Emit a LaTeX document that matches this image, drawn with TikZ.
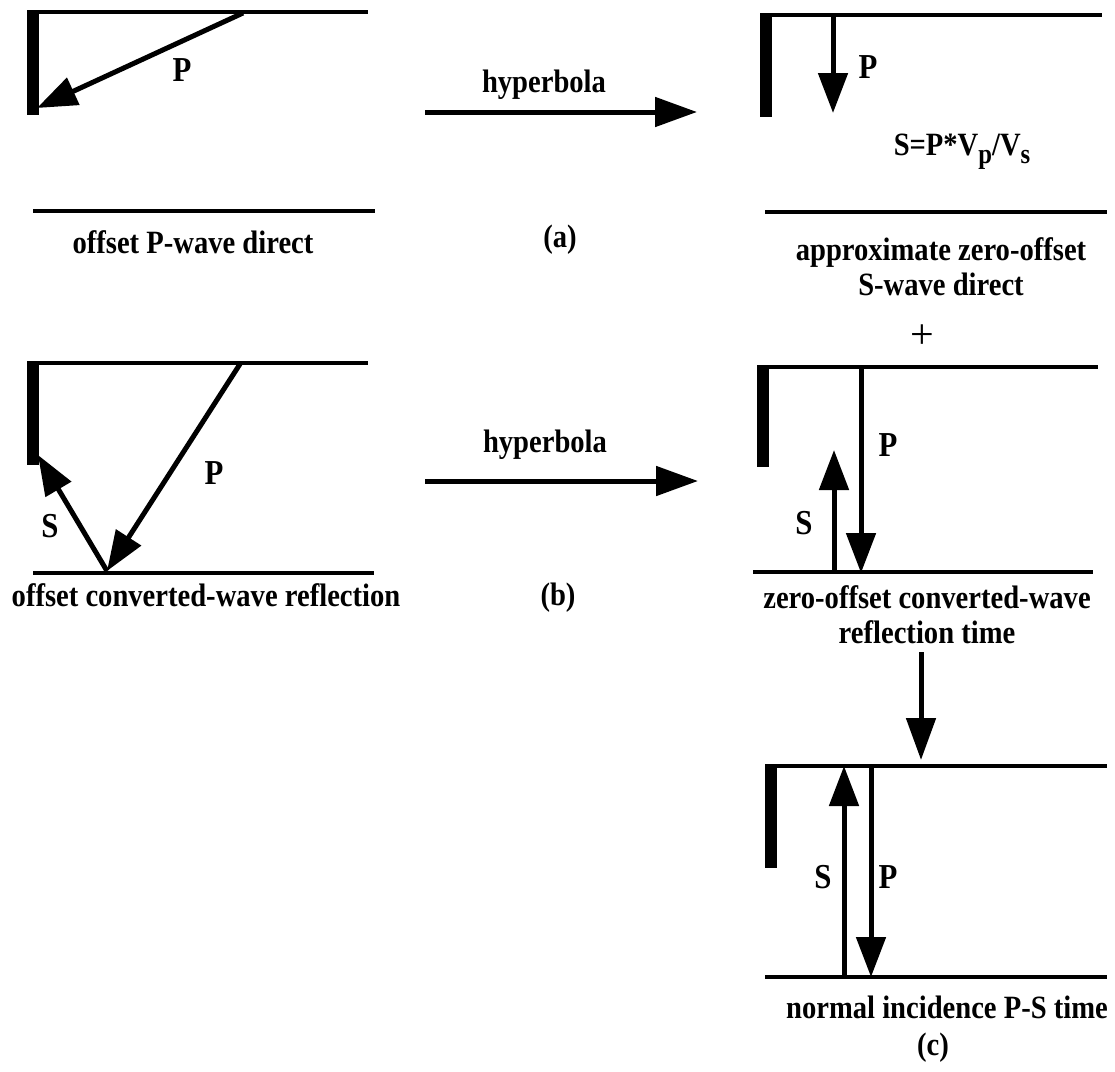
\documentclass[tikz,border=0pt]{standalone}
\usepackage{fontspec}
\setmainfont{Liberation Serif}
\newfontfamily\lblfont[FakeStretch=0.88]{Liberation Serif}
\usetikzlibrary{arrows.meta}
\newcommand{\lowsub}[1]{\raisebox{-8pt}{\fontsize{28}{28}\selectfont #1}}
\begin{document}
\begin{tikzpicture}[x=1pt,y=-1pt,
  layer/.style={line width=4.5pt},
  bar/.style={line width=12pt},
  ray/.style={line width=5pt,-{Triangle[length=40pt,width=29pt]}},
  flow/.style={line width=5pt,-{Triangle[length=42pt,width=29pt]}},
  lbl/.style={font=\lblfont\fontsize{32.5}{35}\selectfont\bfseries,inner sep=0pt,align=center},
  wlbl/.style={font=\lblfont\fontsize{35}{36}\selectfont\bfseries,inner sep=0pt},
  plus/.style={font=\fontsize{42}{42}\selectfont,inner sep=0pt}]
\useasboundingbox (0,0) rectangle (1115,1071);

% ---------- (a) left ----------
\coordinate (aLt1) at (27,12); \coordinate (aLt2) at (368,12);
\coordinate (aLb1) at (33,211); \coordinate (aLb2) at (375,211);
\coordinate (aLv1) at (33,10); \coordinate (aLv2) at (33,115);
\coordinate (aLs) at (243,13); \coordinate (aLr) at (37,108);
\draw[layer] (aLt1) -- (aLt2);
\draw[layer] (aLb1) -- (aLb2);
\draw[bar] (aLv1) -- (aLv2);
\draw[ray] (aLs) -- (aLr);
\node[wlbl] (aLP) at (182,70) {P};
\node[lbl] (aLtxt) at (193,242) {offset P-wave direct};

% hyperbola (a)
\coordinate (ha1) at (425,112); \coordinate (ha2) at (697,112);
\draw[flow] (ha1) -- (ha2);
\node[lbl] (haL) at (544,85) {hyperbola};
\node[lbl] (capa) at (560,240) {(a)};

% ---------- (a) right ----------
\coordinate (aRt1) at (760,15); \coordinate (aRt2) at (1102,15);
\coordinate (aRb1) at (765,212); \coordinate (aRb2) at (1107,212);
\coordinate (aRv1) at (766,13); \coordinate (aRv2) at (766,117);
\coordinate (aRs) at (833,15); \coordinate (aRr) at (833,113);
\draw[layer] (aRt1) -- (aRt2);
\draw[layer] (aRb1) -- (aRb2);
\draw[bar] (aRv1) -- (aRv2);
\draw[ray] (aRs) -- (aRr);
\node[wlbl] (aRP) at (868,67) {P};
\node[lbl] (aRform) at (962,152) {S=P*V\lowsub{p}/V\lowsub{s}};
\node[lbl] (aRtxt) at (941,267) {approximate zero-offset\\S-wave direct};
\node[plus] (plus) at (922,337) {+};

% ---------- (b) left ----------
\coordinate (bLt1) at (27,363); \coordinate (bLt2) at (368,363);
\coordinate (bLb1) at (33,573); \coordinate (bLb2) at (374,573);
\coordinate (bLv1) at (33,361); \coordinate (bLv2) at (33,465);
\coordinate (bLs) at (240,364); \coordinate (bLr) at (107,571);
\coordinate (bLe) at (38,455);
\draw[layer] (bLt1) -- (bLt2);
\draw[layer] (bLb1) -- (bLb2);
\draw[bar] (bLv1) -- (bLv2);
\draw[ray] (bLs) -- (bLr);
\draw[ray] (bLr) -- (bLe);
\node[wlbl] (bLP) at (214,473) {P};
\node[wlbl] (bLS) at (50,526) {S};
\node[lbl] (bLtxt) at (206,595) {offset converted-wave reflection};

% hyperbola (b)
\coordinate (hb1) at (425,481); \coordinate (hb2) at (698,481);
\draw[flow] (hb1) -- (hb2);
\node[lbl] (hbL) at (545,445) {hyperbola};
\node[lbl] (capb) at (558,598) {(b)};

% ---------- (b) right ----------
\coordinate (bRt1) at (757,367); \coordinate (bRt2) at (1098,367);
\coordinate (bRb1) at (753,572); \coordinate (bRb2) at (1093,572);
\coordinate (bRv1) at (763,365); \coordinate (bRv2) at (763,467);
\coordinate (bRPs) at (861,367); \coordinate (bRPe) at (861,573);
\coordinate (bRSs) at (834,572); \coordinate (bRSe) at (834,450);
\draw[layer] (bRt1) -- (bRt2);
\draw[layer] (bRb1) -- (bRb2);
\draw[bar] (bRv1) -- (bRv2);
\draw[ray] (bRPs) -- (bRPe);
\draw[ray] (bRSs) -- (bRSe);
\node[wlbl] (bRP) at (888,445) {P};
\node[wlbl] (bRS) at (804,523) {S};
\node[lbl] (bRtxt) at (927,615) {zero-offset converted-wave\\reflection time};

% down arrow
\coordinate (d1) at (921,652); \coordinate (d2) at (921,760);
\draw[flow] (d1) -- (d2);

% ---------- (c) ----------
\coordinate (ct1) at (765,766); \coordinate (ct2) at (1107,766);
\coordinate (cb1) at (765,977); \coordinate (cb2) at (1107,977);
\coordinate (cv1) at (771,764); \coordinate (cv2) at (771,868);
\coordinate (cSs) at (844,977); \coordinate (cSe) at (844,766);
\coordinate (cPs) at (871,766); \coordinate (cPe) at (871,977);
\draw[layer] (ct1) -- (ct2);
\draw[layer] (cb1) -- (cb2);
\draw[bar] (cv1) -- (cv2);
\draw[ray] (cSs) -- (cSe);
\draw[ray] (cPs) -- (cPe);
\node[wlbl] (cS) at (823,877) {S};
\node[wlbl] (cP) at (888,877) {P};
\node[lbl] (ctxt) at (947,1007) {normal incidence P-S time};
\node[lbl] (capc) at (933,1048) {(c)};
\end{tikzpicture}
\end{document}
